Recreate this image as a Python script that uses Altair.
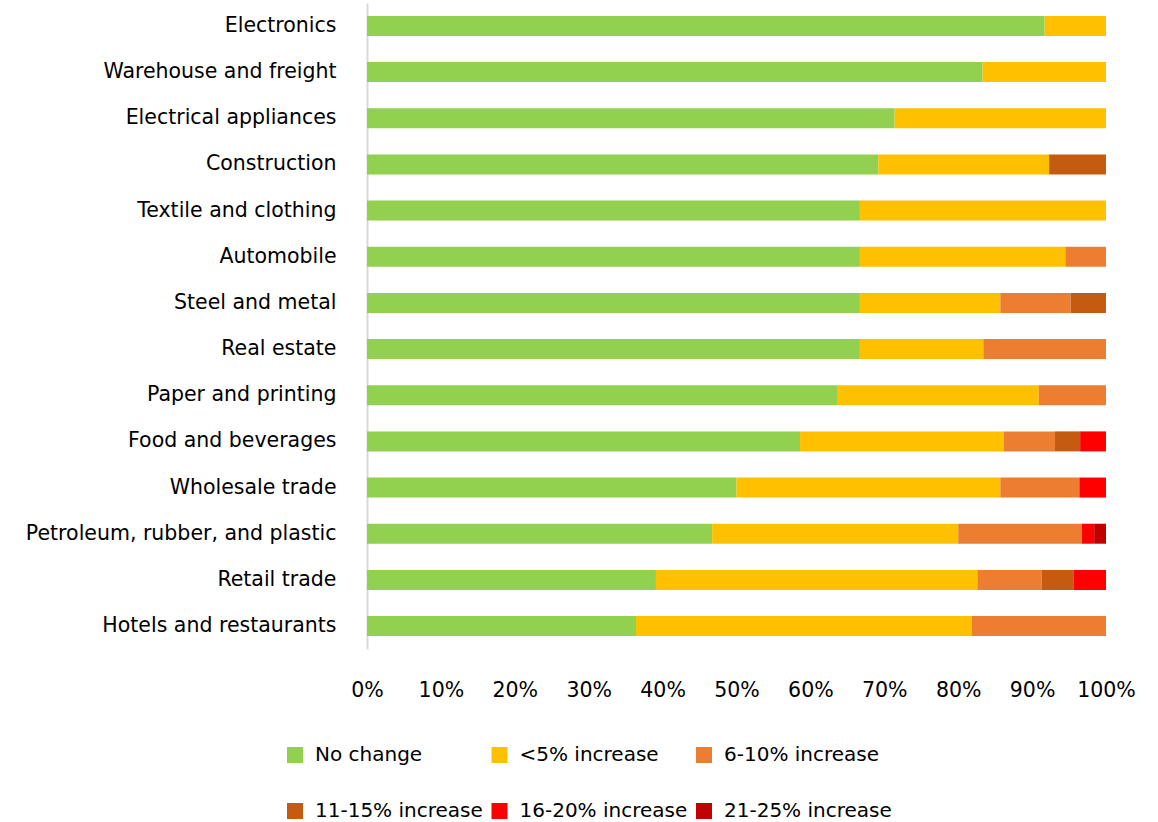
import altair as alt
import pandas as pd

categories = [
    "Electronics", "Warehouse and freight", "Electrical appliances", "Construction",
    "Textile and clothing", "Automobile", "Steel and metal", "Real estate",
    "Paper and printing", "Food and beverages", "Wholesale trade",
    "Petroleum, rubber, and plastic", "Retail trade", "Hotels and restaurants",
]
series = ["No change", "<5% increase", "6-10% increase",
          "11-15% increase", "16-20% increase", "21-25% increase"]
colors = ["#92D050", "#FFC000", "#ED7D31", "#C55A11", "#FF0000", "#C00000"]

no_change = [91.7, 83.3, 71.4, 69.2, 66.7, 66.7, 66.7, 66.7, 63.6, 58.6, 50.0, 46.7, 39.1, 36.4]
lt5 =       [8.3, 16.7, 28.6, 23.1, 33.3, 27.8, 19.0, 16.7, 27.3, 27.6, 35.7, 33.3, 43.5, 45.4]
inc6_10 =   [0, 0, 0, 0, 0, 5.5, 9.5, 16.6, 9.1, 6.9, 10.7, 16.7, 8.7, 18.2]
inc11_15 =  [0, 0, 0, 7.7, 0, 0, 4.8, 0, 0, 3.4, 0, 0, 4.35, 0]
inc16_20 =  [0, 0, 0, 0, 0, 0, 0, 0, 0, 3.5, 3.6, 1.7, 4.35, 0]
inc21_25 =  [0, 0, 0, 0, 0, 0, 0, 0, 0, 0, 0, 1.6, 0, 0]

values = [no_change, lt5, inc6_10, inc11_15, inc16_20, inc21_25]
rows = []
for si, (s, vals) in enumerate(zip(series, values)):
    for c, v in zip(categories, vals):
        rows.append({"Sector": c, "Level": s, "order": si, "value": v})
df = pd.DataFrame(rows)

FONT = "DejaVu Sans"
FS = 20.5

chart = alt.Chart(df).mark_bar(size=20).encode(
    y=alt.Y("Sector:N", sort=categories, title=None,
            scale=alt.Scale(paddingInner=0.565, paddingOuter=0.28),
            axis=alt.Axis(ticks=False, domain=True, domainColor="#D9D9D9", domainWidth=2,
                          labelFontSize=FS, labelFont=FONT, labelColor="#000000",
                          labelPadding=31, labelLimit=400)),
    x=alt.X("value:Q", stack="normalize", title=None,
            scale=alt.Scale(domain=[0, 1], nice=False),
            axis=alt.Axis(format="%", values=[i / 10 for i in range(11)], grid=False,
                          domain=False, ticks=False, labelFontSize=FS, labelFont=FONT,
                          labelColor="#000000", labelPadding=31, labelFlush=False)),
    color=alt.Color("Level:N", sort=series,
                    scale=alt.Scale(domain=series, range=colors),
                    legend=alt.Legend(title=None, orient="none", legendX=-82, legendY=742,
                                      direction="horizontal",
                                      columns=3, symbolType="square", symbolSize=256,
                                      symbolStrokeWidth=0, labelFontSize=20, labelFont=FONT,
                                      labelColor="#000000", labelOffset=10, gridAlign="all",
                                      columnPadding=6.5, rowPadding=36, padding=0,
                                      labelLimit=300)),
    order=alt.Order("order:Q"),
).properties(
    width=739, height=646,
    background="white",
    autosize=alt.AutoSizeParams(type="none"),
    padding={"left": 367, "top": 3, "right": 52, "bottom": 173},
).configure_view(stroke=None)

chart.save("out.html", embed_options={"renderer": "svg", "actions": False})
